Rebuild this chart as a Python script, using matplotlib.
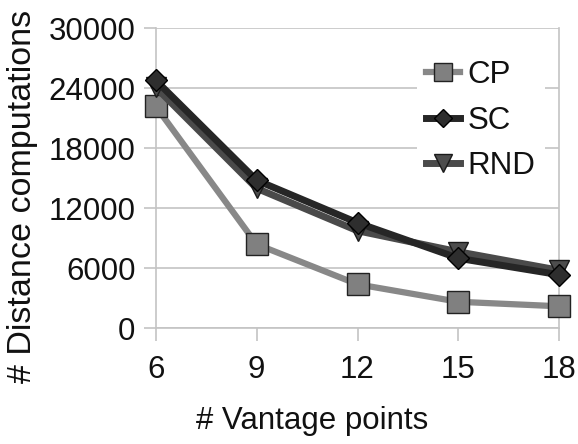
import matplotlib
matplotlib.use("Agg")
import matplotlib.pyplot as plt

plt.rcParams['font.family'] = ['Liberation Sans', 'DejaVu Sans']

vantage_points = [6, 9, 12, 15, 18]
cp = [22200, 8400, 4400, 2650, 2200]
sc = [24800, 14800, 10550, 7000, 5350]
rnd = [24100, 14000, 9750, 7650, 5800]
y_ticks = [0, 6000, 12000, 18000, 24000, 30000]

fig = plt.figure(figsize=(5.78, 4.44), dpi=100)
ax = fig.add_axes([0.2694, 0.2606, 0.9677 - 0.2694, 0.9363 - 0.2606])

grid_c = '#c4c4c4'
ax.set_xlim(6, 18)
ax.set_ylim(0, 30000)
ax.set_yticks(y_ticks)
ax.set_xticks(vantage_points)
ax.yaxis.grid(True, color=grid_c, linewidth=1.2)
ax.set_axisbelow(True)
for side in ['left', 'bottom', 'right']:
    ax.spines[side].set_color(grid_c)
    ax.spines[side].set_linewidth(1.2)
ax.spines['top'].set_visible(False)
ax.tick_params(axis='y', which='major', length=8.6, width=1.2, color=grid_c,
               labelsize=22.5, pad=6, labelcolor='#111111')
ax.tick_params(axis='x', which='major', length=9.4, width=1.2, color=grid_c,
               labelsize=22.5, pad=10, labelcolor='#111111')

ax.plot(vantage_points, cp, color='#888888', linewidth=4.5, marker='s',
        markersize=15.5, markerfacecolor='#808080', markeredgecolor='#222222',
        markeredgewidth=1.0, label='CP', clip_on=False, zorder=3)
ax.plot(vantage_points, rnd, color='#4a4a4a', linewidth=5.0, marker='v',
        markersize=14.5, markerfacecolor='#4d4d4d', markeredgecolor='#1a1a1a',
        markeredgewidth=1.0, label='RND', clip_on=False, zorder=4)
ax.plot(vantage_points, sc, color='#262626', linewidth=5.0, marker='D',
        markersize=11, markerfacecolor='#2e2e2e', markeredgecolor='#000000',
        markeredgewidth=1.0, label='SC', clip_on=False, zorder=5)

ax.set_xlabel('# Vantage points', fontsize=22.5, color='#111111',
              va='center', ha='center')
ax.xaxis.set_label_coords(0.387, -0.309)
ax.set_ylabel('# Distance computations', fontsize=24.5, color='#111111',
              va='center', ha='center')
ax.yaxis.set_label_coords(-0.331, 0.441)

handles, labels = ax.get_legend_handles_labels()
order = [labels.index(n) for n in ['CP', 'SC', 'RND']]
leg = ax.legend([handles[i] for i in order], [labels[i] for i in order],
                loc='upper left', bbox_to_anchor=(0.608, 0.977),
                fontsize=22.5, frameon=True, fancybox=False, facecolor='white',
                edgecolor='none', framealpha=1.0, handlelength=1.1,
                handletextpad=0.22, labelspacing=0.5, markerscale=0.85,
                borderpad=0.3)
for t in leg.get_texts():
    t.set_color('#111111')

fig.savefig('out.png', dpi=100)
